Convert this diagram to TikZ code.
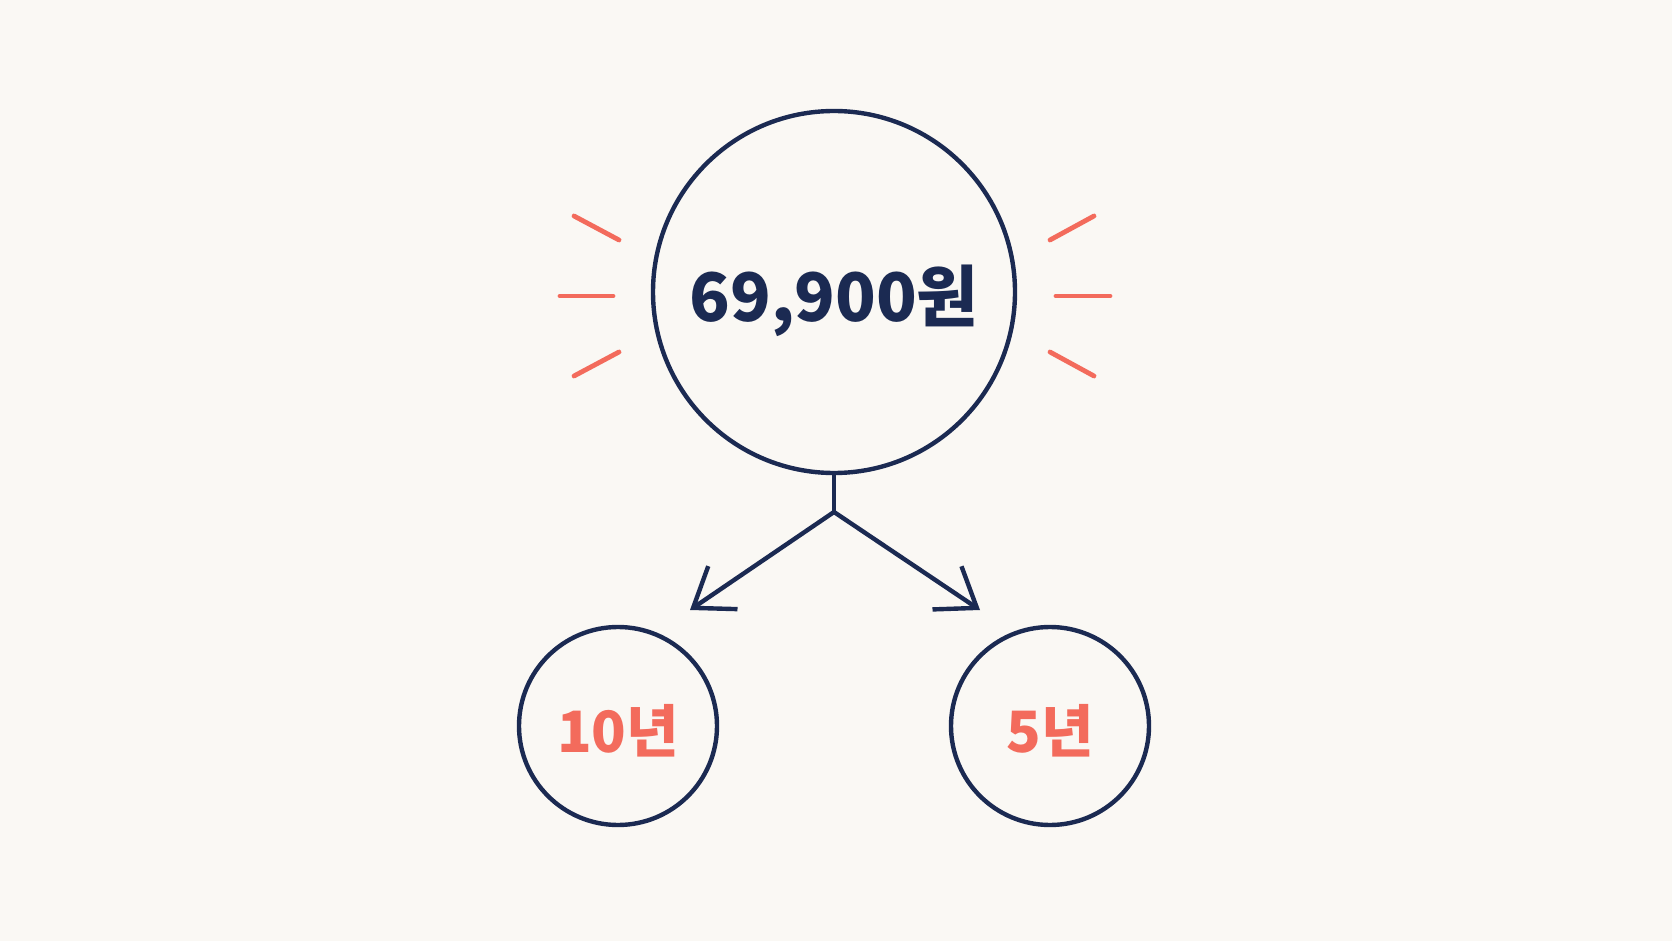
\documentclass[tikz,border=0pt]{standalone}
\usepackage{fontspec}
\newfontfamily\kr{Noto Sans CJK KR}
\usetikzlibrary{arrows.meta,positioning}
\definecolor{navy}{HTML}{1B2A52}
\definecolor{coral}{HTML}{F36B5C}
\definecolor{paper}{HTML}{FAF8F4}

\begin{document}
\begin{tikzpicture}[x=0.5pt,y=-0.5pt,
    bubble/.style={circle,draw=navy,line width=2.2pt,inner sep=0pt,text depth=0pt},
    ray/.style={coral,line width=2.4pt,line cap=round},
    link/.style={navy,line width=2.2pt,line join=round},
    tip/.style={-{Straight Barb[length=18pt,width=26pt,line width=2.2pt]}}]
    % Background
    \fill[paper] (0,0) rectangle (1672,941);
    \useasboundingbox (0,0) rectangle (1672,941);

    % Price
    \node[bubble,minimum size=181pt,text height=29.5pt,text=navy,font=\kr\bfseries\fontsize{33.5}{38}\selectfont] (price) at (834,292) {69,900원};

    % Terms
    \node[bubble,minimum size=99pt,text height=26pt,text=coral,font=\kr\bfseries\fontsize{28.5}{32}\selectfont] (ten) at (618,726) {10년};
    \node[bubble,minimum size=99pt,text height=26pt,text=coral,font=\kr\bfseries\fontsize{28.5}{32}\selectfont] (five) at (1050,726) {5년};

    % Split
    \coordinate (fork) at (834,512);
    \coordinate (tenend) at (690,610);
    \coordinate (fiveend) at (980,610);
    \draw[link] (price.south) -- (fork);
    \draw[link,tip] (fork) -- (tenend);
    \draw[link,tip] (fork) -- (fiveend);

    % Rays
    \foreach \a/\b/\c/\d in {574/216/619/240, 560/296/613/296, 574/376/619/352,
                             1050/240/1094/216, 1056/296/1110/296, 1050/352/1094/376}
        \draw[ray] (\a,\b) -- (\c,\d);
\end{tikzpicture}
\end{document}
